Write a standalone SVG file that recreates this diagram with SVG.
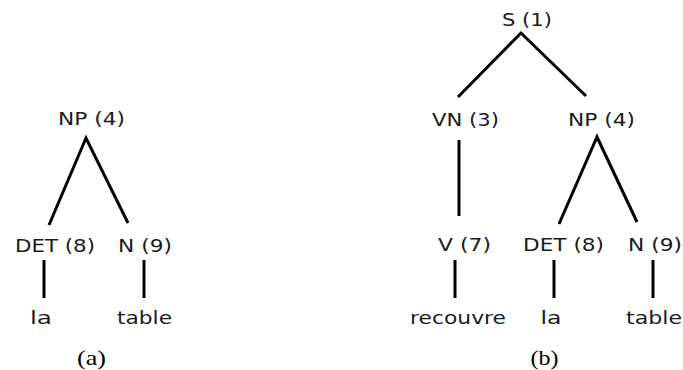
<svg xmlns="http://www.w3.org/2000/svg" width="683" height="370" viewBox="0 0 683 370">
<style>
.n{font-family:"DejaVu Sans",sans-serif;font-size:18px;fill:#1a1a1a;text-anchor:middle}
.c{font-family:"Liberation Serif",serif;font-size:22px;fill:#000;text-anchor:middle}
.e{stroke:#000;stroke-width:3;fill:none;stroke-linecap:butt}
</style>
<rect width="683" height="370" fill="#fff"/>
<g id="connectors">
<path class="e" d="M49,225 L86,138 L128,223"/>
<path class="e" d="M44,260 V298 M144,260 V298"/>
<path class="e" d="M458,97 L521,33 L586,96"/>
<path class="e" d="M459,140 V216"/>
<path class="e" d="M559,224 L597,137 L637,222"/>
<path class="e" d="M455,260 V298 M554,260 V298 M653,260 V298"/>
</g>
<g id="a-np"><text class="n" x="91.5" y="125" textLength="67" lengthAdjust="spacingAndGlyphs">NP (4)</text></g>
<g id="a-det"><text class="n" x="55" y="252" textLength="80" lengthAdjust="spacingAndGlyphs">DET (8)</text></g>
<g id="a-n"><text class="n" x="145" y="252" textLength="54" lengthAdjust="spacingAndGlyphs">N (9)</text></g>
<g id="a-la"><text class="n" x="41" y="324" textLength="22" lengthAdjust="spacingAndGlyphs">la</text></g>
<g id="a-table"><text class="n" x="144.5" y="324" textLength="55" lengthAdjust="spacingAndGlyphs">table</text></g>
<g id="b-s"><text class="n" x="527" y="26" textLength="50" lengthAdjust="spacingAndGlyphs">S (1)</text></g>
<g id="b-vn"><text class="n" x="465.5" y="126" textLength="67" lengthAdjust="spacingAndGlyphs">VN (3)</text></g>
<g id="b-np"><text class="n" x="601.5" y="126" textLength="67" lengthAdjust="spacingAndGlyphs">NP (4)</text></g>
<g id="b-v"><text class="n" x="464.5" y="251" textLength="53" lengthAdjust="spacingAndGlyphs">V (7)</text></g>
<g id="b-det"><text class="n" x="563.5" y="251" textLength="81" lengthAdjust="spacingAndGlyphs">DET (8)</text></g>
<g id="b-n"><text class="n" x="655" y="251" textLength="54" lengthAdjust="spacingAndGlyphs">N (9)</text></g>
<g id="b-recouvre"><text class="n" x="458" y="324" textLength="96" lengthAdjust="spacingAndGlyphs">recouvre</text></g>
<g id="b-la"><text class="n" x="551" y="324" textLength="21" lengthAdjust="spacingAndGlyphs">la</text></g>
<g id="b-table"><text class="n" x="654" y="324" textLength="56" lengthAdjust="spacingAndGlyphs">table</text></g>
<text class="c" x="91.5" y="365" textLength="29" lengthAdjust="spacingAndGlyphs">(a)</text>
<text class="c" x="544.5" y="365" textLength="28" lengthAdjust="spacingAndGlyphs">(b)</text>
</svg>
